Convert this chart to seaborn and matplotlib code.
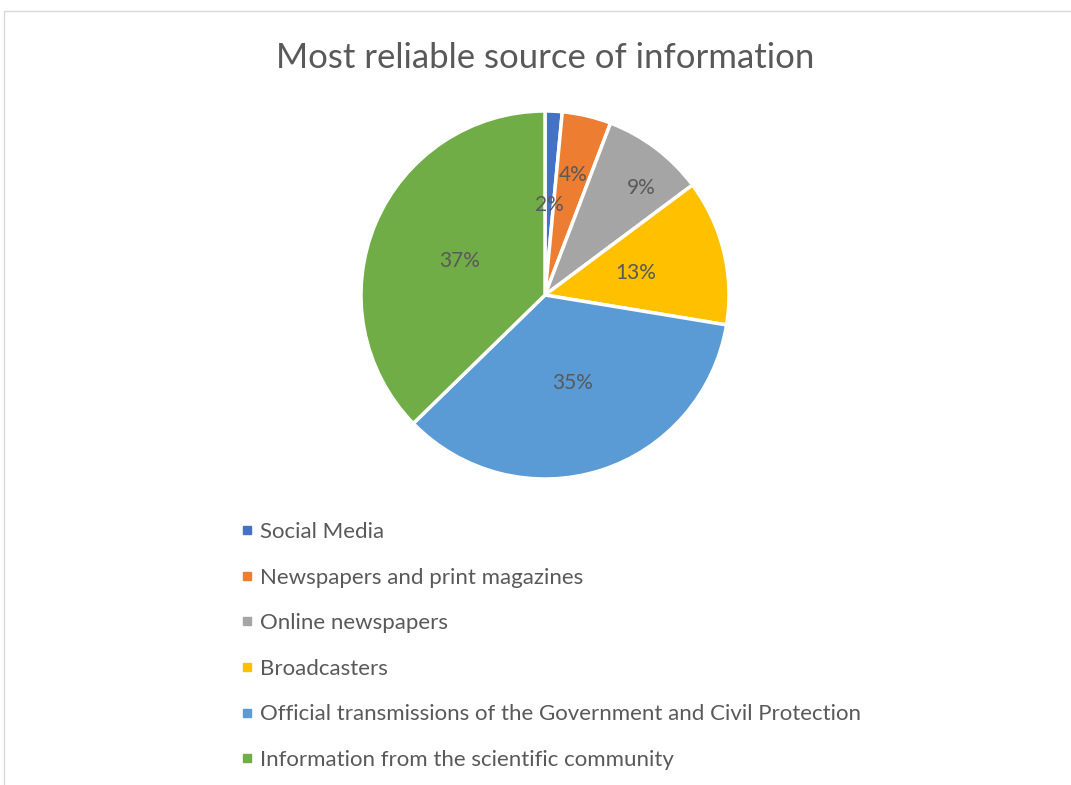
import matplotlib
import matplotlib.pyplot as plt
import numpy as np
import seaborn as sns
from matplotlib.lines import Line2D
from matplotlib.patches import Rectangle

matplotlib.use('Agg')

sources = ["Social Media", "Newspapers and print magazines", "Online newspapers",
           "Broadcasters", "Official transmissions of the Government and Civil Protection",
           "Information from the scientific community"]
shares = [1.5, 4.3, 9.0, 12.8, 35.1, 37.3]
colors = ["#4472C4", "#ED7D31", "#A5A5A5", "#FFC000", "#5B9BD5", "#70AD47"]
title = "Most reliable source of information"

# label distance from centre (fraction of radius) and angular nudge, per slice
label_radius = [0.49, 0.67, 0.78, 0.51, 0.50, 0.50]
label_nudge = [0, 0, -5, 0, 0, 1.5]

sns.set_theme(style="white")
plt.rcParams['font.family'] = ['Lato', 'DejaVu Sans']
text_color = "#595959"

W, H = 1071, 785
fig = plt.figure(figsize=(W / 100, H / 100), dpi=100)

# light chart frame
fig.patches.append(Rectangle((4 / W, -0.05), 1.2, 1 - 11 / H + 0.05, transform=fig.transFigure,
                             fill=False, edgecolor="#D9D9D9", linewidth=1))

cx, cy, r = 545, 295, 184
ax = fig.add_axes([(cx - r) / W, 1 - (cy + r) / H, 2 * r / W, 2 * r / H])
wedges, texts, autotexts = ax.pie(
    shares, colors=colors, startangle=90, counterclock=False,
    autopct='%.0f%%', pctdistance=0.5,
    wedgeprops=dict(edgecolor="white", linewidth=2.5),
    textprops=dict(color=text_color, fontsize=15))
for w, t, rad, nudge in zip(wedges, autotexts, label_radius, label_nudge):
    ang = np.deg2rad((w.theta1 + w.theta2) / 2 + nudge)
    t.set_position((rad * np.cos(ang), rad * np.sin(ang)))
ax.set_xlim(-1, 1)
ax.set_ylim(-1, 1)
ax.set_aspect('equal')

fig.text(cx / W, 1 - 58 / H, title, ha='center', va='center', fontsize=25, color=text_color)

handles = [Line2D([0], [0], marker='s', linestyle='', markersize=6,
                  markerfacecolor=c, markeredgecolor=c) for c in colors]
fig.legend(handles, sources, loc='upper left', bbox_to_anchor=(229 / W, 1 - 511 / H),
           frameon=False, fontsize=16, labelcolor=text_color, handlelength=0.6,
           handletextpad=0.3, labelspacing=1.15, borderpad=0)

plt.savefig("out.png", dpi=100)
plt.close()
